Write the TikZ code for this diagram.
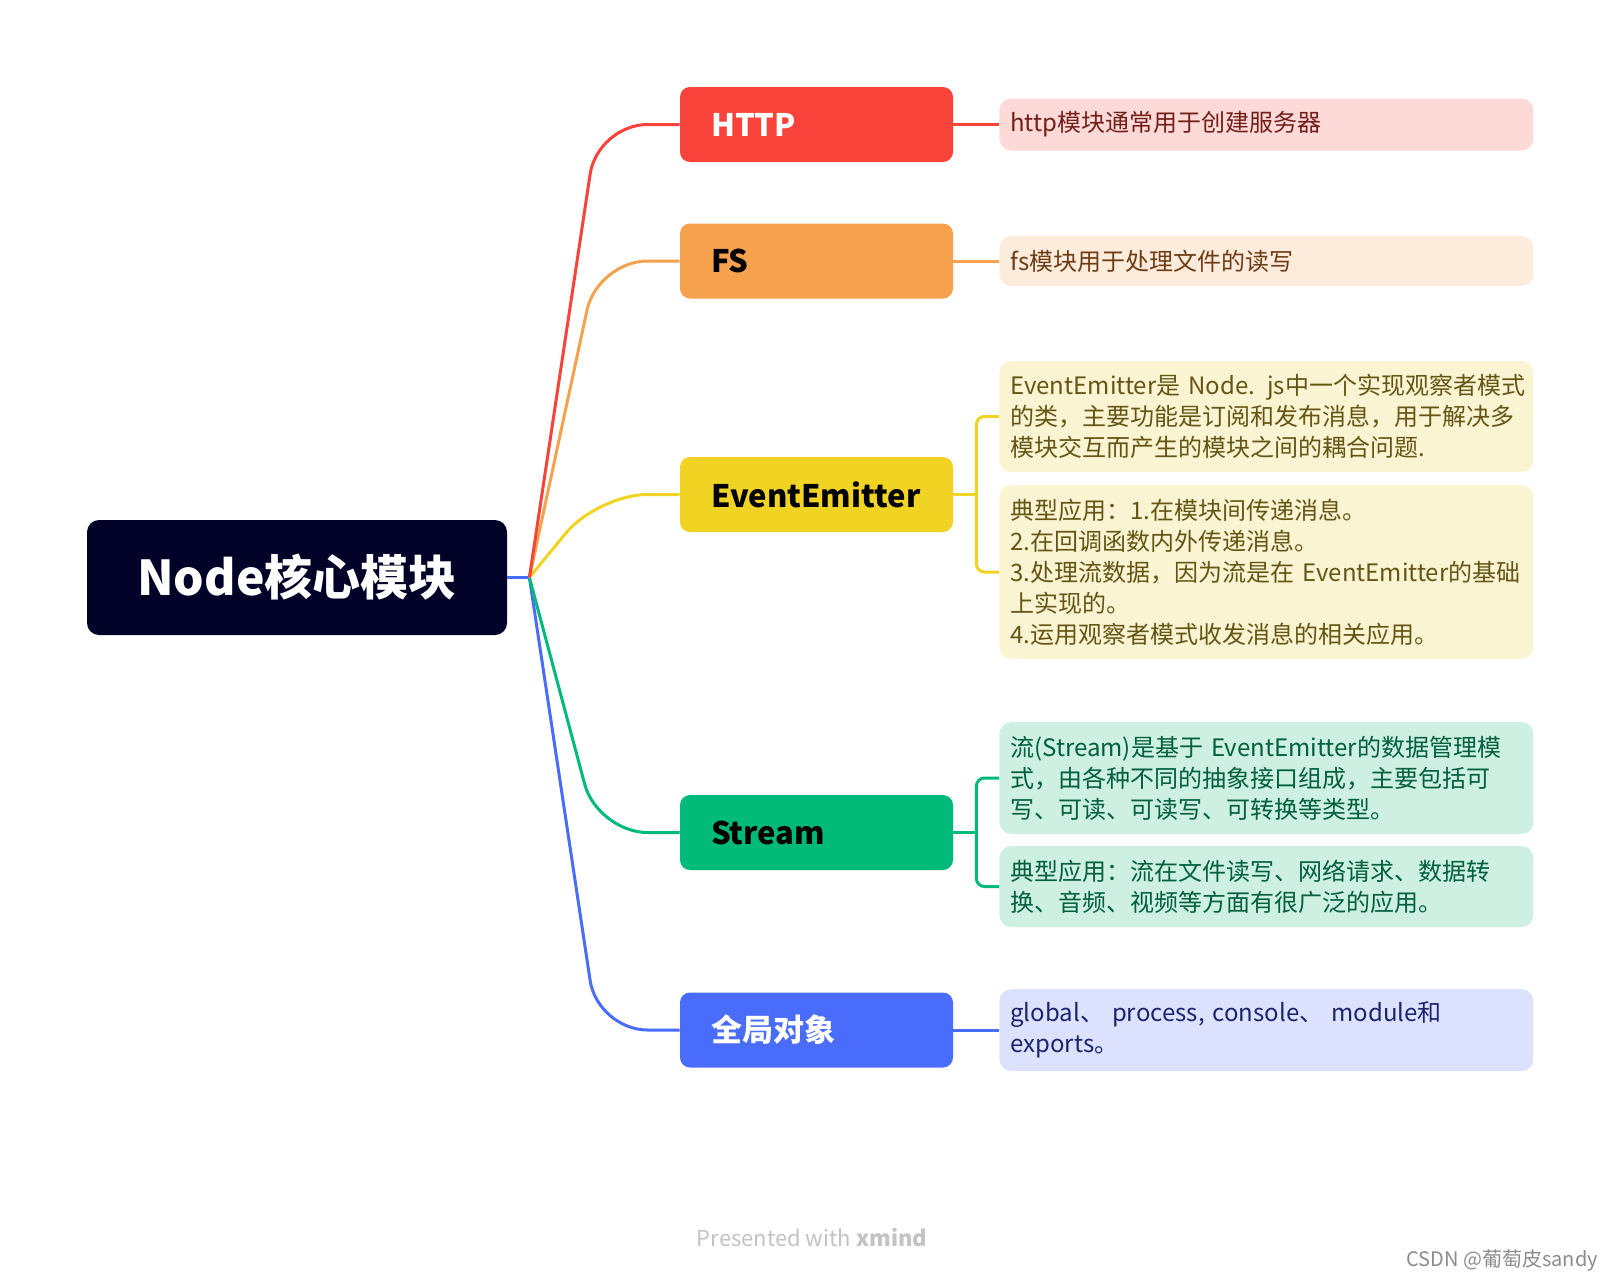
\documentclass[tikz,border=0pt]{standalone}
\usepackage{fontspec}
\setmainfont{Noto Sans CJK SC}
\usetikzlibrary{calc}

% topic colours
\definecolor{rootnavy}{RGB}{2,2,40}
\definecolor{httpred}{RGB}{248,67,58}
\definecolor{fsorange}{RGB}{245,161,77}
\definecolor{eeyellow}{RGB}{240,211,35}
\definecolor{stgreen}{RGB}{0,186,122}
\definecolor{glblue}{RGB}{74,108,250}
% note colours
\definecolor{httpfill}{RGB}{253,218,216}
\definecolor{httptext}{RGB}{115,30,25}
\definecolor{fsfill}{RGB}{253,235,220}
\definecolor{fstext}{RGB}{110,60,20}
\definecolor{eefill}{RGB}{251,244,211}
\definecolor{eetext}{RGB}{100,85,20}
\definecolor{stfill}{RGB}{206,240,226}
\definecolor{sttext}{RGB}{0,95,60}
\definecolor{glfill}{RGB}{220,226,253}
\definecolor{gltext}{RGB}{25,35,110}
\definecolor{footgray}{RGB}{195,195,195}
\definecolor{csdngray}{RGB}{140,140,140}

\tikzset{
  rootbox/.style={fill=rootnavy, text=white, rounded corners=6pt,
    minimum width=210pt, minimum height=57.5pt,
    font=\bfseries\fontsize{24}{28}\selectfont},
  topic/.style={rounded corners=5pt, text width=105.5pt, inner xsep=15.5pt,
    minimum height=37.5pt, align=left,
    font=\bfseries\fontsize{15.5}{18}\selectfont},
  note/.style={rounded corners=6pt, anchor=west, text width=256pt,
    inner xsep=5.5pt, inner ysep=0pt, align=left,
    font=\fontsize{12}{15.5}\selectfont},
  branch/.style={line width=1.5pt, rounded corners=25pt},
  bracket/.style={line width=1.5pt, rounded corners=4pt}
}

\begin{document}
\begin{tikzpicture}[x=0.5pt,y=-0.5pt]

    % Page background
    \fill[white] (0,0) rectangle (1621,1280);

    % Central topic
    \node[rootbox] (root) at (297,577.5) {Node核心模块};
    \coordinate (hub) at ($(root.east)+(22,0)$);

    % Main topics
    \node[topic, fill=httpred, text=white] (http) at (816.5,124.5) {HTTP};
    \node[topic, fill=fsorange, text=black] (fs) at (816.5,261) {FS};
    \node[topic, fill=eeyellow, text=black] (ee) at (816.5,494.5) {EventEmitter};
    \node[topic, fill=stgreen, text=black] (st) at (816.5,832.5) {Stream};
    \node[topic, fill=glblue, text=white] (gl) at (816.5,1030) {全局对象};

    % Notes
    \node[note, fill=httpfill, text=httptext, minimum height=26pt] (httpnote)
      at (999,124.5) {http模块通常用于创建服务器};
    \node[note, fill=fsfill, text=fstext, minimum height=25pt] (fsnote)
      at (999,261) {fs模块用于处理文件的读写};
    \node[note, fill=eefill, text=eetext, minimum height=55.5pt] (een1)
      at (999,416.5) {\mbox{EventEmitter是 Node. js中一个实现观察者模式}\\
      的类，主要功能是订阅和发布消息，用于解决多\\
      模块交互而产生的模块之间的耦合问题.};
    \node[note, fill=eefill, text=eetext, minimum height=87pt] (een2)
      at (999,572) {典型应用：1.在模块间传递消息。\\
      2.在回调函数内外传递消息。\\
      3.处理流数据，因为流是在 EventEmitter的基础\\
      上实现的。\\
      4.运用观察者模式收发消息的相关应用。};
    \node[note, fill=stfill, text=sttext, minimum height=56pt] (stn1)
      at (999,778) {流(Stream)是基于 EventEmitter的数据管理模\\
      式，由各种不同的抽象接口组成，主要包括可\\
      写、可读、可读写、可转换等类型。};
    \node[note, fill=stfill, text=sttext, minimum height=40.5pt] (stn2)
      at (999,886.5) {典型应用：流在文件读写、网络请求、数据转\\
      换、音频、视频等方面有很广泛的应用。};
    \node[note, fill=glfill, text=gltext, minimum height=41pt] (glnote)
      at (999,1030) {global、 process, console、 module和\\
      exports。};

    % Curved branches from the hub
    \draw[branch, glblue] (root.east) -- (hub);
    \foreach \b/\c in {gl/glblue, st/stgreen, ee/eeyellow, fs/fsorange, http/httpred}
    \draw[branch, \c] (hub) -- ($(\b.west)+(-82,0)$) -- (\b.west);

    % Topic to note links
    \draw[bracket, httpred] (http.east) -- (httpnote.west);
    \draw[bracket, fsorange] (fs.east) -- (fsnote.west);
    \draw[bracket, glblue] (gl.east) -- (glnote.west);

    \coordinate (eebr) at ($(ee.east)+(23,0)$);
    \draw[bracket, eeyellow] (ee.east) -- (eebr);
    \draw[bracket, eeyellow] (een1.west) -| (eebr) |- (een2.west);

    \coordinate (stbr) at ($(st.east)+(23,0)$);
    \draw[bracket, stgreen] (st.east) -- (stbr);
    \draw[bracket, stgreen] (stn1.west) -| (stbr) |- (stn2.west);

    % Footer texts
    \node[text=footgray, font=\fontsize{11}{13}\selectfont] (credit)
      at (812,1237) {Presented with \textbf{xmind}};
    \node[anchor=east, text=csdngray, font=\fontsize{10}{12}\selectfont] (csdn)
      at (1605,1260) {CSDN @葡萄皮sandy};

  \end{tikzpicture}
\end{document}
